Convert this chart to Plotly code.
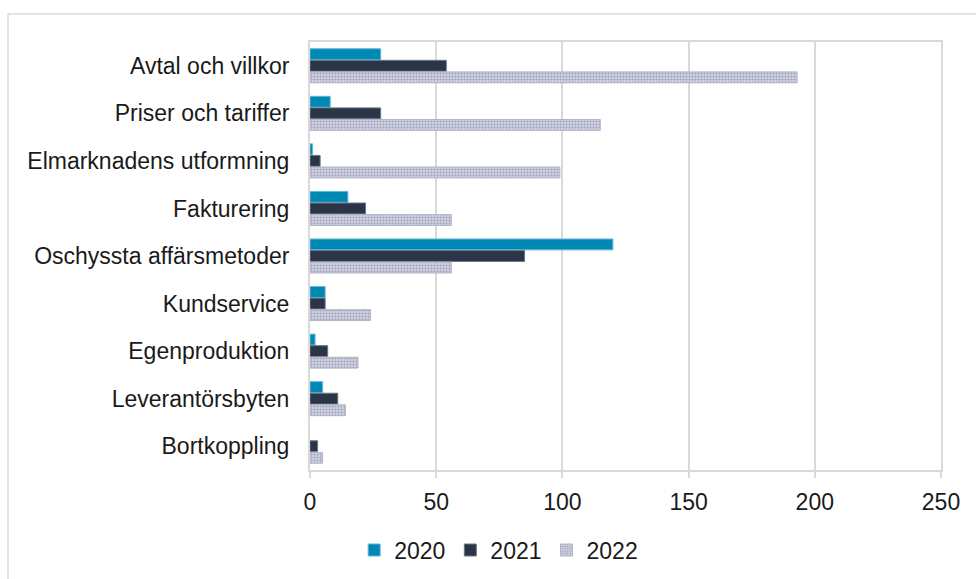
import plotly.graph_objects as go

categories = [
    "Avtal och villkor",
    "Priser och tariffer",
    "Elmarknadens utformning",
    "Fakturering",
    "Oschyssta affärsmetoder",
    "Kundservice",
    "Egenproduktion",
    "Leverantörsbyten",
    "Bortkoppling",
]
values_2020 = [28, 8, 1, 15, 120, 6, 2, 5, 0]
values_2021 = [54, 28, 4, 22, 85, 6, 7, 11, 3]
values_2022 = [193, 115, 99, 56, 56, 24, 19, 14, 5]
x_ticks = [0, 50, 100, 150, 200, 250]


def outline_widths(values):
    # no outline on empty bars so a zero value leaves no sliver
    return [0 if v == 0 else 1 for v in values]


fig = go.Figure()
fig.add_trace(go.Bar(
    y=categories, x=values_2020, name="2020", orientation="h",
    marker=dict(color="#0088b5",
                line=dict(color="#5fb8d6", width=outline_widths(values_2020))),
))
fig.add_trace(go.Bar(
    y=categories, x=values_2021, name="2021", orientation="h",
    marker=dict(color="#2b3548",
                line=dict(color="#6c7383", width=outline_widths(values_2021))),
))
fig.add_trace(go.Bar(
    y=categories, x=values_2022, name="2022", orientation="h",
    marker=dict(
        color="#dcdde8",
        line=dict(color="#b0b3c8", width=outline_widths(values_2022)),
        pattern=dict(shape=".", fgcolor="#6f7399", size=3, solidity=0.5),
    ),
))

grid = "#d9d9d9"
fig.update_layout(
    width=976, height=579,
    margin=dict(l=310, r=35, t=42, b=109, autoexpand=False),
    paper_bgcolor="white", plot_bgcolor="white",
    barmode="group", bargap=0.27, bargroupgap=0.06,
    font=dict(family="Liberation Sans, Arial, sans-serif", size=23, color="#1a1a1a"),
    legend=dict(
        orientation="h", x=0.299, xanchor="center",
        yref="container", y=0.05, yanchor="middle",
        font=dict(size=23), traceorder="normal",
    ),
    xaxis=dict(
        range=[0, 250], tickvals=x_ticks, showgrid=True, gridcolor=grid, gridwidth=2,
        showline=True, linecolor=grid, linewidth=2, mirror=True, zeroline=False,
        ticks="outside", ticklen=6, tickwidth=2, tickcolor=grid,
        ticklabelstandoff=4, tickfont=dict(size=23),
    ),
    yaxis=dict(
        autorange="reversed", showgrid=False, showline=True, linecolor=grid,
        linewidth=2, mirror=True, ticks="", ticklabelstandoff=14,
    ),
    shapes=[dict(
        type="rect", xref="paper", yref="paper",
        x0=-0.4786, x1=1.2, y0=-0.4, y1=1.0654,
        line=dict(color=grid, width=1.5), layer="below",
    )],
)

fig.write_html("out.html")
